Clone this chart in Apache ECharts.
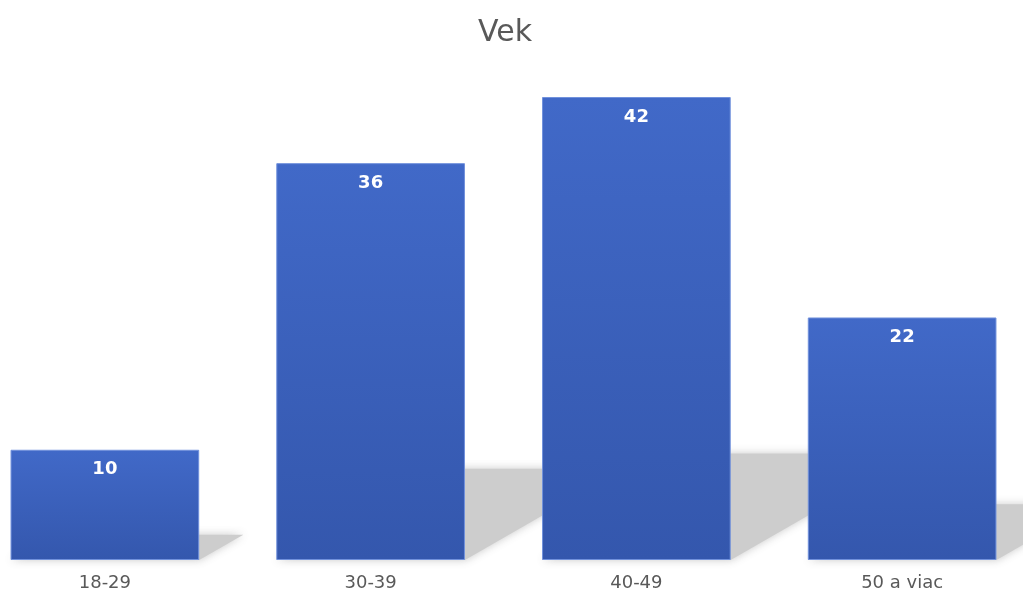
<!DOCTYPE html>
<html>
<head>
<meta charset="utf-8">
<script src="https://cdn.jsdelivr.net/npm/echarts@6/dist/echarts.min.js"></script>
<style>
html,body{margin:0;padding:0;background:#fff;overflow:hidden;width:1023px;height:592px;position:relative}
#c{width:1064px;height:592px;position:absolute;left:-28px;top:0}
</style>
</head>
<body>
<div id="c"></div>
<script>
var categories = ['18-29', '30-39', '40-49', '50 a viac'];
var values = [10, 36, 42, 22];
var titleText = 'Vek';

var chart = echarts.init(document.getElementById('c'), null, {renderer: 'canvas'});
var BAR_RATIO = 0.71;
var SHX = 0.40, SHY = 0.23;
var FONT = 'DejaVu Sans';

var option = {
  backgroundColor: '#ffffff',
  animation: false,
  title: {
    text: titleText,
    left: 501,
    top: 13,
    textStyle: {fontFamily: FONT, fontSize: 30, fontWeight: 'normal', color: '#595959'}
  },
  grid: {left: 0, right: 1, top: 97, bottom: 31, containLabel: false},
  xAxis: {
    type: 'category',
    data: categories,
    axisLine: {show: false},
    axisTick: {show: false},
    axisLabel: {fontFamily: FONT, fontSize: 18, color: '#595959', margin: 14}
  },
  yAxis: {
    type: 'value',
    min: 0,
    max: 42,
    show: false,
    splitLine: {show: false}
  },
  series: [
    {
      type: 'custom',
      z: 1,
      clip: false,
      silent: true,
      data: values.map(function (v, i) { return [i, v]; }),
      renderItem: function (params, api) {
        var idx = api.value(0), v = api.value(1);
        var base = api.coord([idx, 0]);
        var top = api.coord([idx, v]);
        var bw = api.size([1, 0])[0] * BAR_RATIO;
        var h = base[1] - top[1];
        var xl = base[0] - bw / 2, xr = base[0] + bw / 2, y0 = base[1];
        var dx = SHX * h, dy = SHY * h;
        return {
          type: 'polygon',
          shape: {points: [[xl, y0], [xr, y0], [xr + dx, y0 - dy], [xl + dx, y0 - dy]]},
          style: {fill: '#cdcdcd', shadowBlur: 8, shadowColor: 'rgba(195,195,195,0.9)'}
        };
      }
    },
    {
      type: 'bar',
      z: 5,
      data: values,
      barCategoryGap: '29%',
      itemStyle: {
        borderColor: '#7191dc',
        borderWidth: 1,
        color: new echarts.graphic.LinearGradient(0, 0, 0, 1, [
          {offset: 0, color: '#4169c8'},
          {offset: 1, color: '#3457ad'}
        ])
      },
      label: {
        show: true,
        position: 'insideTop',
        distance: 11,
        color: '#ffffff',
        fontFamily: FONT,
        fontWeight: 'bold',
        fontSize: 18
      }
    }
  ]
};
chart.setOption(option);
</script>
</body>
</html>
